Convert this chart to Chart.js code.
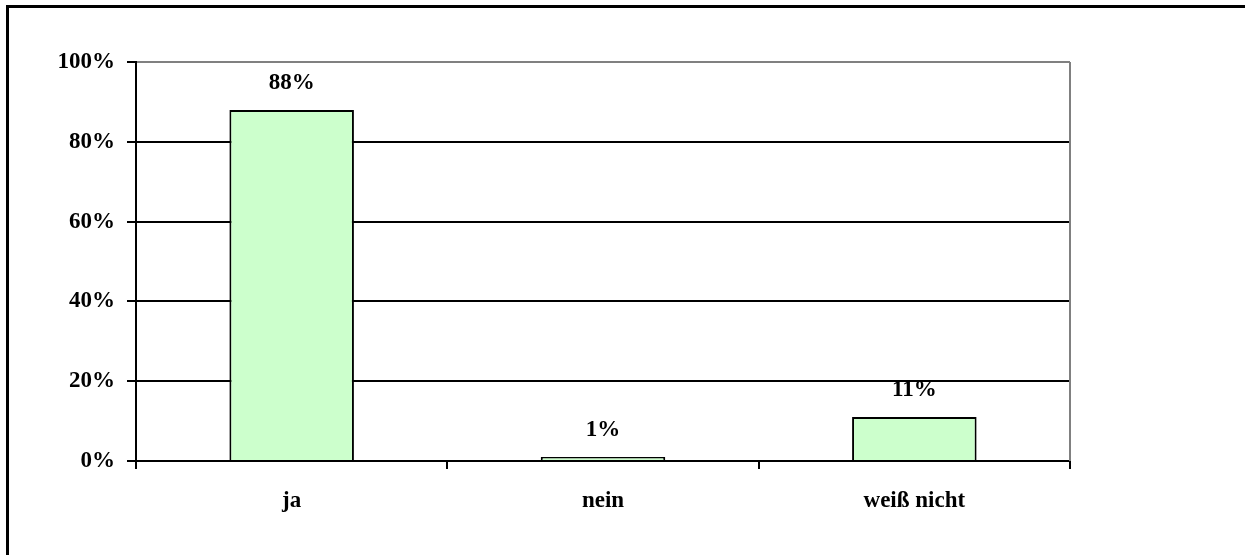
<!DOCTYPE html>
<html>
<head>
<meta charset="utf-8">
<script src="https://cdn.jsdelivr.net/npm/chart.js@4/dist/chart.umd.min.js"></script>
<style>
  body { margin: 0; background: #fff; }
  #wrap { position: relative; width: 1245px; height: 555px; }
  #frame { position: absolute; left: 6px; top: 5px; right: -10px; bottom: -10px;
           border-left: 3px solid #000; border-top: 3px solid #000; pointer-events: none; }
</style>
</head>
<body>
<div id="wrap">
  <canvas id="chart"></canvas>
  <div id="frame"></div>
</div>
<script>
const categories = ['ja', 'nein', 'weiß nicht']
const shares = [88, 1, 11]
const yTicks = [0, 20, 40, 60, 80, 100]

const font = { family: "'Liberation Serif', 'Times New Roman', serif", size: 23, weight: 'bold' }

// value labels above the bars and the grey right edge of the plot
const barLabels = {
    id: 'barLabels',
    afterDatasetsDraw(chart) {
        const ctx = chart.ctx
        const area = chart.chartArea
        ctx.save()
        ctx.strokeStyle = '#808080'
        ctx.lineWidth = 2
        ctx.beginPath()
        ctx.moveTo(area.right, area.top)
        ctx.lineTo(area.right, area.bottom)
        ctx.stroke()

        ctx.font = `bold ${font.size}px ${font.family}`
        ctx.fillStyle = '#000'
        ctx.textAlign = 'center'
        ctx.textBaseline = 'middle'
        chart.getDatasetMeta(0).data.forEach((bar, i) => {
            ctx.fillText(shares[i] + '%', bar.x, bar.y - 27)
        })
        ctx.restore()
    }
}

const config = {
    type: 'bar',
    data: {
        labels: [...categories],
        datasets: [{
            data: [...shares],
            backgroundColor: '#ccffcc',
            borderColor: '#000',
            borderWidth: 2,
            categoryPercentage: 1,
            barPercentage: 0.4
        }]
    },
    options: {
        responsive: true,
        maintainAspectRatio: false,
        animation: false,
        layout: { padding: { top: 62, right: 175, bottom: 0, left: 0 } },
        plugins: {
            legend: { display: false },
            tooltip: { enabled: false }
        },
        scales: {
            x: {
                afterFit: scale => { scale.height = 94 },
                grid: {
                    display: true,
                    drawOnChartArea: false,
                    drawTicks: true,
                    tickLength: 8,
                    color: '#000',
                    lineWidth: 2
                },
                border: { display: true, color: '#000', width: 2 },
                ticks: { color: '#000', font: font, padding: 18 }
            },
            y: {
                min: 0,
                max: 100,
                afterFit: scale => { scale.width = 136 },
                afterBuildTicks: scale => { scale.ticks = yTicks.map(v => ({ value: v })) },
                grid: {
                    color: c => c.tick && c.tick.value === 100 ? '#808080' : '#000',
                    lineWidth: 2,
                    tickColor: '#000',
                    tickLength: 9
                },
                border: { display: true, color: '#000', width: 2 },
                ticks: {
                    color: '#000',
                    font: font,
                    padding: 12,
                    callback: v => v + '%'
                }
            }
        }
    },
    plugins: [barLabels]
}

new Chart(document.getElementById('chart'), config)
</script>
</body>
</html>
